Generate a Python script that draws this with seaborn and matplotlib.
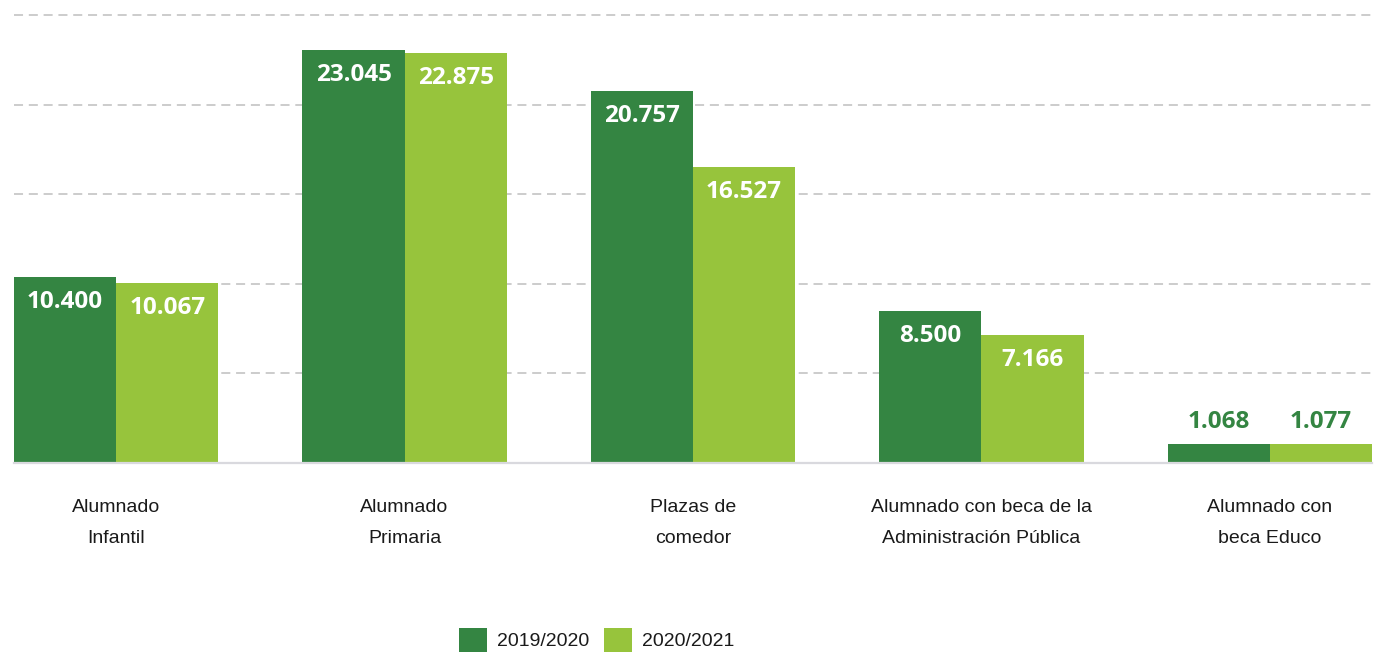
import matplotlib
matplotlib.use("Agg")
import matplotlib.pyplot as plt
import seaborn as sns
import pandas as pd
from matplotlib.patches import Patch

categories = ["Alumnado\nInfantil", "Alumnado\nPrimaria", "Plazas de\ncomedor",
              "Alumnado con beca de la\nAdministración Pública", "Alumnado con\nbeca Educo"]
series_names = ["2019/2020", "2020/2021"]
values_2019 = [10400, 23045, 20757, 8500, 1068]
values_2020 = [10067, 22875, 16527, 7166, 1077]
label_2019 = ["10.400", "23.045", "20.757", "8.500", "1.068"]
label_2020 = ["10.067", "22.875", "16.527", "7.166", "1.077"]
grid_ticks = [5000, 10000, 15000, 20000, 25000]

colors = ["#348542", "#97c43c"]

sns.set_theme(style="white")
plt.rcParams['font.family'] = ['Liberation Sans', 'DejaVu Sans']

df = pd.DataFrame({
    "cat": categories * 2,
    "serie": [series_names[0]] * 5 + [series_names[1]] * 5,
    "val": values_2019 + values_2020,
})

fig = plt.figure(figsize=(13.94, 6.52), dpi=100)
ax = fig.add_axes([14 / 1394, 1 - 463 / 652, (1372 - 14) / 1394, 453 / 652])

sns.barplot(data=df, x="cat", y="val", hue="serie", palette=colors, saturation=1,
            width=0.708, gap=0, linewidth=0, edgecolor="none", legend=False, ax=ax,
            errorbar=None, zorder=3)

ax.set_xlim(-0.354, 4.354)
ax.set_ylim(0, 25300)
for g in grid_ticks:
    ax.axhline(g, color="#c8c8c8", lw=1.3, ls=(0, (5, 3.2)), zorder=1)

for s in ["top", "right", "left"]:
    ax.spines[s].set_visible(False)
ax.spines["bottom"].set_color("#d9d9de")
ax.spines["bottom"].set_linewidth(1.6)
ax.spines["bottom"].set_zorder(4)
ax.set_yticks([])
ax.set_xlabel("")
ax.set_ylabel("")
ax.tick_params(axis="x", length=0, pad=26, labelsize=14, labelcolor="#1a1a1a")
for t in ax.get_xticklabels():
    t.set_linespacing(2.05)

bold_font = ['Open Sans', 'DejaVu Sans']
containers = ax.containers
for cont, labels in zip(containers, [label_2019, label_2020]):
    for bar, lab in zip(cont, labels):
        h = bar.get_height()
        x = bar.get_x() + bar.get_width() / 2
        if h > 3000:
            ax.annotate(lab, (x, h), xytext=(0, -18), textcoords="offset points",
                        ha="center", va="center", color="white", fontsize=17.5,
                        fontweight="bold", family=bold_font, zorder=5)
        else:
            ax.annotate(lab, (x, h), xytext=(0, 15.5), textcoords="offset points",
                        ha="center", va="center", color=colors[0], fontsize=17.5,
                        fontweight="bold", family=bold_font, zorder=5)

handles = [Patch(facecolor=c, edgecolor="none") for c in colors]
fig.legend(handles, series_names, loc="center left", bbox_to_anchor=(459 / 1394, 1 - 640 / 652),
           frameon=False, fontsize=14, handlelength=1.45, handleheight=1.45,
           handletextpad=0.5, columnspacing=0.75, ncol=2, borderpad=0, borderaxespad=0,
           labelcolor="#1a1a1a")

fig.savefig("out.png", dpi=100)
